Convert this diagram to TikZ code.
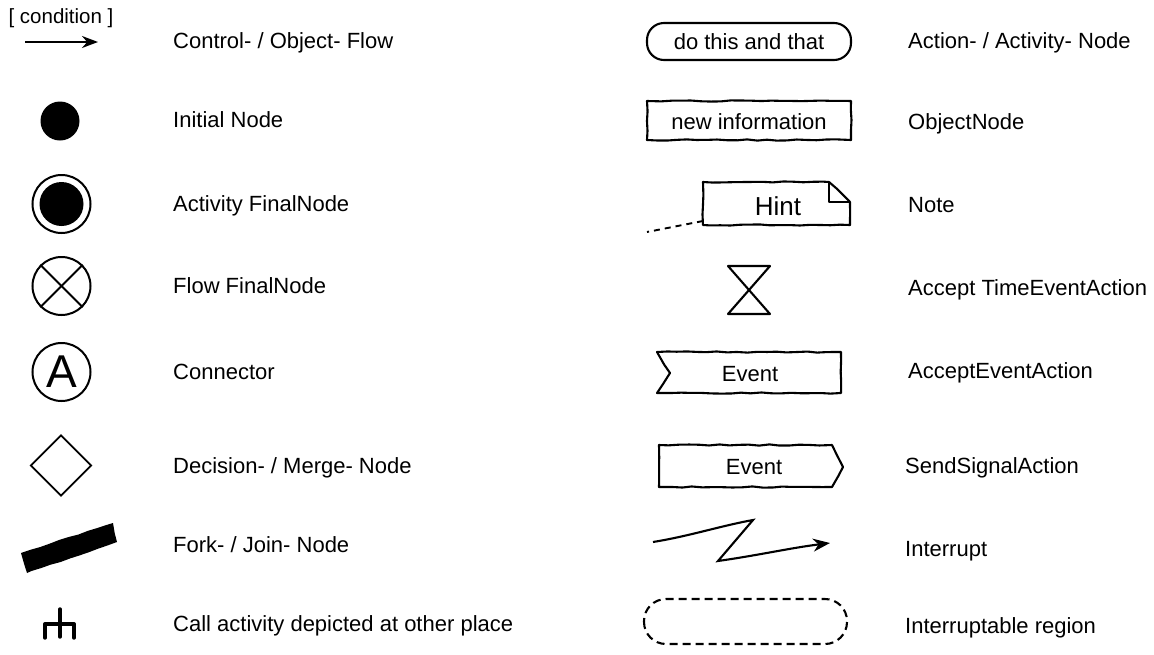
\documentclass[tikz,border=0pt]{standalone}
\usepackage{fontspec}
\setmainfont{Liberation Sans}
\usetikzlibrary{shapes.geometric,arrows.meta,decorations.pathmorphing}

\tikzset{
  legend/.style={anchor=base west, inner sep=0pt, font=\fontsize{22}{26}\selectfont},
  intext/.style={inner sep=0pt, font=\fontsize{22}{26}\selectfont},
  sketch/.style={line width=2.1pt, line join=round, decorate,
    decoration={random steps, segment length=10pt, amplitude=0.6pt}},
  plainline/.style={line width=2.1pt, line join=round},
  ring/.style={circle, draw, line width=2pt, inner sep=0pt, minimum size=58pt},
}

\begin{document}
\begin{tikzpicture}[x=1pt, y=-1pt]
\pgfmathsetseed{7}
\useasboundingbox (0,0) rectangle (1154,654);

% ---------- left column: symbols ----------
% control / object flow
\node[inner sep=0pt, font=\fontsize{20.5}{24}\selectfont] (cond) at (61,18) {[ condition ]};
\coordinate (flowA) at (25,42);
\coordinate (flowB) at (98,42);
\draw[line width=2.1pt, -{Stealth[length=16pt, width=12pt]}] (flowA) -- (flowB);

% initial node
\node[circle, fill, inner sep=0pt, minimum size=39pt] (init) at (60,121) {};

% activity final node
\node[ring] (afin) at (61.5,204) {};
\node[circle, fill, inner sep=0pt, minimum size=44pt] (afincore) at (afin) {};

% flow final node
\node[ring] (ffin) at (61.5,286) {};
\draw[plainline] (ffin.north west) -- (ffin.south east);
\draw[plainline] (ffin.north east) -- (ffin.south west);

% connector
\node[ring, font=\fontsize{46}{50}\selectfont] (conn) at (61.5,372) {A};

% decision / merge
\node[diamond, draw, line width=1.9pt, inner sep=0pt, minimum width=61pt, minimum height=61pt] (dec) at (61,465.5) {};

% fork / join bar
\fill[sketch] (21,553) -- (113,523) -- (117,542) -- (27,573) -- cycle;

% call activity (rake)
\coordinate (rakeTop) at (60,609);
\coordinate (rakeL) at (45,624);
\coordinate (rakeR) at (74,624);
\coordinate (rakeLb) at (45,638);
\coordinate (rakeRb) at (74,638);
\coordinate (rakeMb) at (60,637);
\draw[line width=3.4pt, line cap=round] (rakeTop) -- (rakeMb);
\draw[line width=3.4pt, line cap=round, line join=round] (rakeLb) -- (rakeL) -- (rakeR) -- (rakeRb);

% ---------- left column: labels ----------
\node[legend] (l1) at (173,48) {Control- / Object- Flow};
\node[legend] (l2) at (173,127.5) {Initial Node};
\node[legend] (l3) at (173,211.5) {Activity FinalNode};
\node[legend] (l4) at (173,293.5) {Flow FinalNode};
\node[legend] (l5) at (173,379.5) {Connector};
\node[legend] (l6) at (173,473) {Decision- / Merge- Node};
\node[legend] (l7) at (173,552) {Fork- / Join- Node};
\node[legend] (l8) at (173,631) {Call activity depicted at other place};

% ---------- right column: symbols ----------
% action node
\draw[plainline, rounded corners=17pt] (647,23) rectangle (851,60);
\node[intext] (act) at (749,42) {do this and that};

% object node
\draw[sketch] (647,101) rectangle (851,140);
\node[intext] (obj) at (749,122) {new information};

% note
\draw[sketch] (703,182) -- (829,182) -- (850,202) -- (850,225) -- (703,225) -- cycle;
\draw[plainline] (829,182) -- (829,202) -- (850,202);
\node[inner sep=0pt, font=\fontsize{26}{30}\selectfont] (hint) at (778,206) {Hint};
\coordinate (noteA) at (703,221);
\coordinate (noteB) at (647,232);
\draw[line width=1.9pt, dash pattern=on 6pt off 5pt] (noteA) -- (noteB);

% accept time event action (hourglass)
\coordinate (hgTL) at (728,266);
\coordinate (hgTR) at (770,266);
\coordinate (hgBL) at (728,314);
\coordinate (hgBR) at (770,314);
\draw[plainline] (hgTL) -- (hgTR) -- (hgBL) -- (hgBR) -- cycle;

% accept event action
\draw[sketch] (657,352) -- (841,352) -- (841,393) -- (657,393) -- (670,373) -- cycle;
\node[intext] (acc) at (750,374) {Event};

% send signal action
\draw[sketch] (659,445) -- (832,445) -- (843,467) -- (832,487) -- (659,487) -- cycle;
\node[intext] (send) at (754,467) {Event};

% interrupt
\coordinate (intA) at (653,542);
\coordinate (intB) at (753,520);
\coordinate (intC) at (718,561);
\coordinate (intD) at (830,543);
\draw[line width=2.1pt, line join=miter, -{Stealth[length=17pt, width=13pt]}]
  (intA) .. controls (690,536) and (720,526) .. (intB) -- (intC)
  .. controls (760,555) and (790,548) .. (intD);

% interruptible region
\draw[line width=2.1pt, dash pattern=on 8pt off 5pt, rounded corners=22pt] (644,599) rectangle (847,644);

% ---------- right column: labels ----------
\node[legend] (r1) at (908,48) {Action- / Activity- Node};
\node[legend] (r2) at (908,129.5) {ObjectNode};
\node[legend] (r3) at (908,212.5) {Note};
\node[legend] (r4) at (908,295.5) {Accept TimeEventAction};
\node[legend] (r5) at (908,378.5) {AcceptEventAction};
\node[legend] (r6) at (905,473.5) {SendSignalAction};
\node[legend] (r7) at (905,556.5) {Interrupt};
\node[legend] (r8) at (905,633) {Interruptable region};
\end{tikzpicture}
\end{document}
